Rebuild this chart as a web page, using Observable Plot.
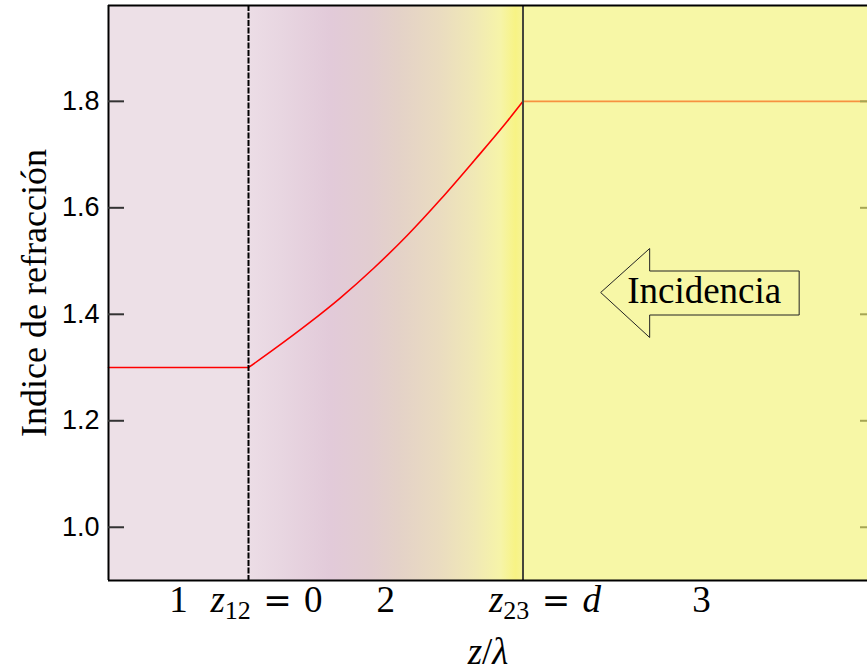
<!DOCTYPE html>
<html><head><meta charset="utf-8">
<script src="https://cdn.jsdelivr.net/npm/d3@7"></script>
<script src="https://cdn.jsdelivr.net/npm/@observablehq/plot@0.6"></script>
<style>
html,body{margin:0;padding:0;background:#fff;overflow:hidden}
#defs{position:absolute;left:0;top:0;width:0;height:0}
</style></head><body>
<svg id="defs" width="0" height="0"><defs>
<linearGradient id="region2Gradient" x1="0" x2="1" y1="0" y2="0">
<stop offset="0" stop-color="#ecdde6"/>
<stop offset="0.12" stop-color="#e8d6e1"/>
<stop offset="0.30" stop-color="#e2cad9"/>
<stop offset="0.45" stop-color="#e2cdd0"/>
<stop offset="0.55" stop-color="#e4d2c8"/>
<stop offset="0.70" stop-color="#eadcc0"/>
<stop offset="0.82" stop-color="#f0e8b6"/>
<stop offset="0.92" stop-color="#f6f4a8"/>
<stop offset="0.975" stop-color="#f7f384"/>
<stop offset="1" stop-color="#f6f396"/>
</linearGradient></defs></svg>
<div id="chart"></div>
<script>
// ---- data ----
const zDomain = [-0.51, 2.255];
const nDomain = [0.9, 1.98];
const zInterfaces = [0, 1];
const n1 = 1.3;
const n3 = 1.8;
const profileZ = [0, 0.092, 0.214, 0.335, 0.457, 0.578, 0.700, 0.821, 0.942, 1];
const profileN = [1.300, 1.334, 1.381, 1.431, 1.487, 1.548, 1.616, 1.688, 1.762, 1.800];
const nTicks = [1.0, 1.2, 1.4, 1.6, 1.8];
const regionLabelZ = [-0.255, 0, 0.5, 1, 1.65];
const regionLabels = ["1", "z12 = 0", "2", "z23 = d", "3"];
const annotationZ = [1.66];
const annotationN = [1.44];
const annotationText = ["Incidencia"];
const xLabel = "z/λ";
const yLabel = "Indice de refracción";

// ---- derived tables ----
const profile = profileZ.map((z, i) => ({z, n: profileN[i]}));
const flatLeft = [{z: zDomain[0], n: n1}, {z: zInterfaces[0], n: n1}];
const flatRight = [{z: zInterfaces[1], n: n3}, {z: zDomain[1], n: n3}];
const regions = [
  {x1: zDomain[0], x2: zInterfaces[0]},
  {x1: zInterfaces[0], x2: zInterfaces[1]},
  {x1: zInterfaces[1], x2: zDomain[1]}
];
const annotations = annotationZ.map((z, i) => ({z, n: annotationN[i], text: annotationText[i]}));

const serif = "'Liberation Serif', 'Times New Roman', serif";
const sans = "'Liberation Sans', Arial, sans-serif";

const chart = Plot.plot({
  width: 867,
  height: 672,
  marginLeft: 108,
  marginRight: 0,
  marginTop: 5,
  marginBottom: 92,
  x: {domain: zDomain, axis: null},
  y: {domain: nDomain},
  marks: [
    Plot.rect([regions[0]], {x1: "x1", x2: "x2", fill: "#ede0e7"}),
    Plot.rect([regions[1]], {x1: "x1", x2: "x2", fill: "url(#region2Gradient)"}),
    Plot.line(flatLeft, {x: "z", y: "n", stroke: "#ff0000", strokeWidth: 1.6}),
    Plot.line(profile, {x: "z", y: "n", stroke: "#ff0000", strokeWidth: 1.6, curve: "monotone-x"}),
    Plot.line(flatRight, {x: "z", y: "n", stroke: "#ff0000", strokeWidth: 1.6}),
    Plot.axisY(nTicks, {anchor: "right", label: null, tickSize: 8, insetRight: 8, tickFormat: () => "",
      fontSize: 0, stroke: "#333", strokeWidth: 2}),
    Plot.rect([regions[2]], {x1: "x1", x2: "x2", fill: "rgb(242,242,107)", fillOpacity: 0.6}),
    Plot.ruleX([zInterfaces[1]], {stroke: "#45453a", strokeWidth: 2}),
    Plot.ruleX([zInterfaces[0]], {stroke: "#000", strokeWidth: 2, strokeDasharray: "6,1.5"}),
    Plot.ruleX([zDomain[0]], {stroke: "#000", strokeWidth: 2}),
    Plot.ruleY([nDomain[0], nDomain[1]], {stroke: "#000", strokeWidth: 2}),
    Plot.axisY(nTicks, {anchor: "left", label: null, tickSize: 16, insetLeft: 16, tickPadding: 9,
      tickFormat: d => d.toFixed(1), fontSize: 27, fontFamily: sans, stroke: "#333", strokeWidth: 2, fill: "#000"}),
    Plot.text(regionLabelZ, {x: d => d, text: (d, i) => regionLabels[i], frameAnchor: "bottom",
      textAnchor: "middle", lineAnchor: "middle", dy: 20,
      fontSize: 37, fontFamily: serif, fill: "#000"}),
    Plot.text([xLabel], {text: d => d, frameAnchor: "bottom", textAnchor: "middle", lineAnchor: "middle",
      dy: 72, fontSize: 37, fontFamily: serif, fill: "#000"}),
    Plot.text([yLabel], {text: d => d, frameAnchor: "left", textAnchor: "middle", lineAnchor: "middle",
      rotate: -90, dx: -74, fontSize: 36, fontFamily: serif, fill: "#000"}),
    Plot.text(annotations, {x: "z", y: "n", text: "text", textAnchor: "middle", lineAnchor: "middle",
      dy: -2, fontSize: 37, fontFamily: serif, fill: "#000"})
  ]
});
document.getElementById("chart").appendChild(chart);

// math-style labels (italic variables, subscripts, wide "=")
const sp = "\u2004";
const eq = `${sp}<tspan font-family="'DejaVu Serif', serif" font-size="34">=</tspan>${sp}`;
const subs = {
  "z12 = 0": ["12", `${eq}0`, 18, false],
  "z23 = d": ["23", eq, 22, true]
};
const allTexts = Array.from(chart.querySelectorAll("text"));
allTexts.forEach(t => {
  const s = t.textContent;
  if (subs[s]) {
    const [sub, rest, shift, italicEnd] = subs[s];
    let html = `<tspan font-style="italic">z</tspan><tspan font-size="26" dy="7">${sub}</tspan><tspan dy="-7">${rest}</tspan>`;
    if (italicEnd) html += `<tspan font-style="italic">d</tspan>`;
    t.innerHTML = html;
    t.setAttribute("dx", shift);
  } else if (s === xLabel) {
    t.innerHTML = `<tspan font-style="italic">z</tspan>/<tspan font-style="italic">λ</tspan>`;
  }
});

// block arrow around the annotation
const xs = chart.scale("x"), ys = chart.scale("y");
annotations.forEach(a => {
  const X = xs.apply(a.z), Y = ys.apply(a.n);
  const t = allTexts.find(el => el.textContent === a.text);
  const p = document.createElementNS("http://www.w3.org/2000/svg", "path");
  p.setAttribute("d", `M${X-103},${Y} L${X-54},${Y-44} L${X-54},${Y-21.5} L${X+95.5},${Y-21.5} L${X+95.5},${Y+22.5} L${X-54},${Y+22.5} L${X-54},${Y+45} Z`);
  p.setAttribute("fill", "none");
  p.setAttribute("stroke", "#222");
  p.setAttribute("stroke-width", "1");
  const g = t ? t.closest("g") : null;
  if (g && g.parentNode) g.parentNode.insertBefore(p, g); else chart.appendChild(p);
});
</script>
</body></html>
